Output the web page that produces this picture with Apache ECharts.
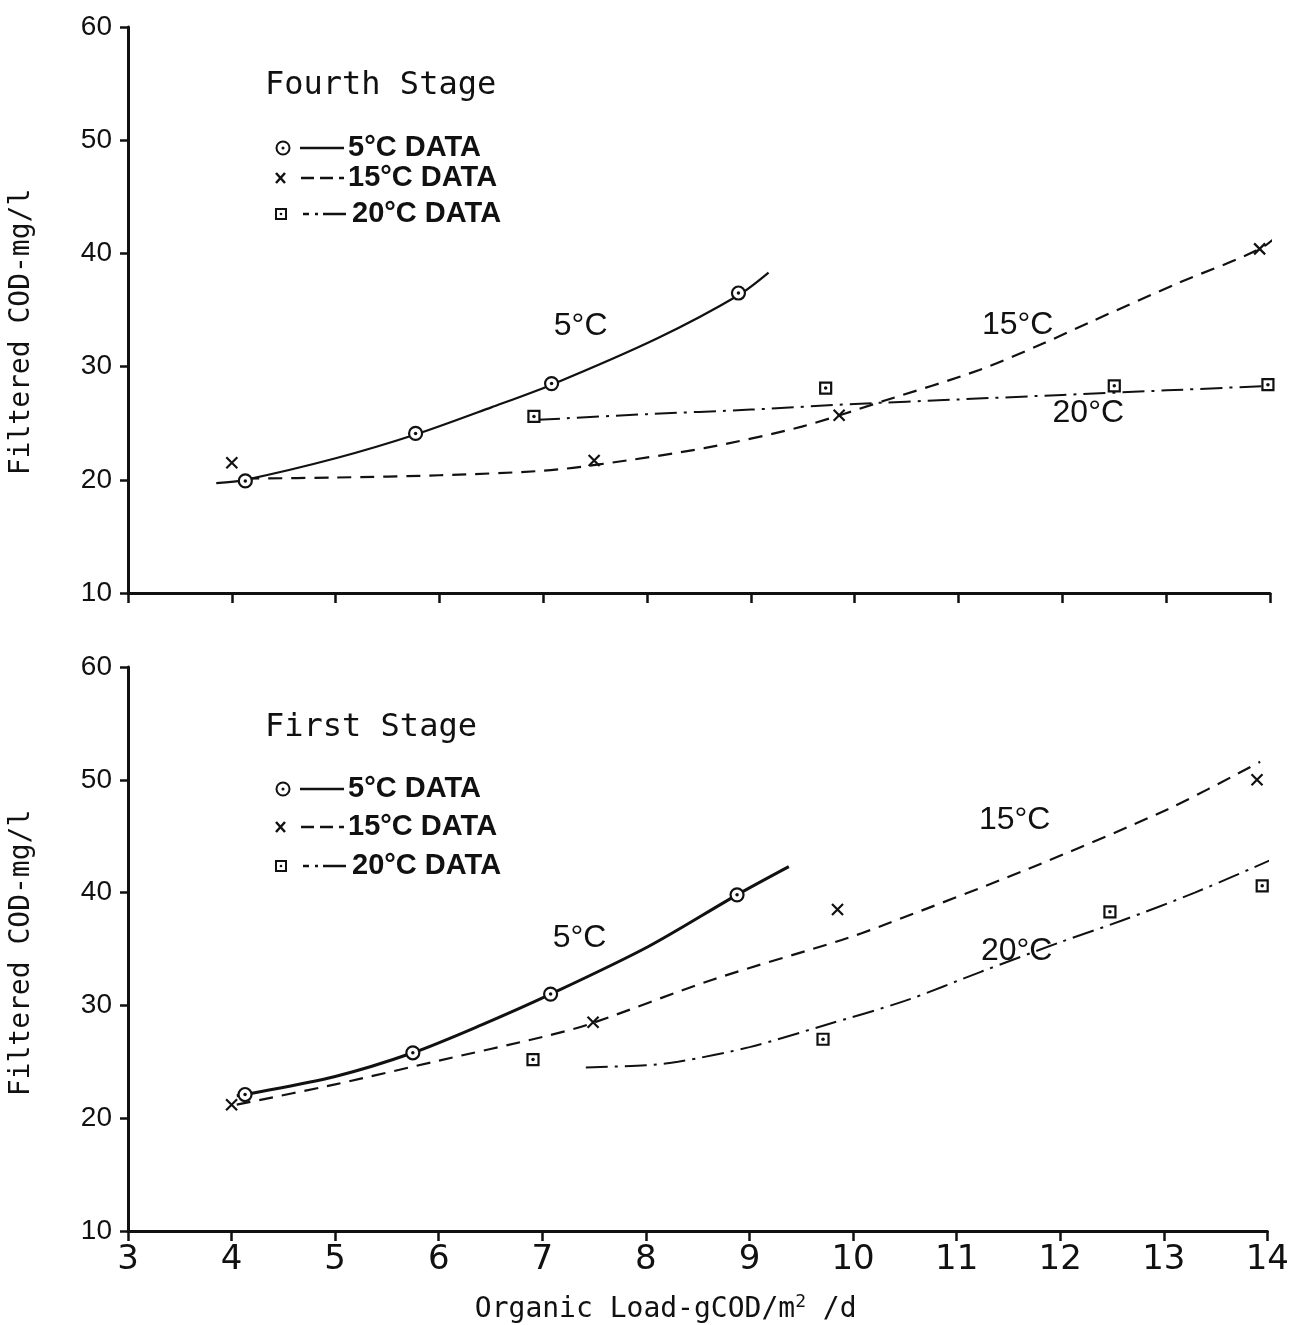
<!DOCTYPE html>
<html>
<head>
<meta charset="utf-8">
<style>
  html, body { margin: 0; padding: 0; background: #fff; }
  #chart { width: 1292px; height: 1325px; }
</style>
<script src="https://cdn.jsdelivr.net/npm/echarts@6/dist/echarts.min.js"></script>
</head>
<body>
<div id="chart"></div>
<script>
// Filtered COD vs organic load, fourth stage (top) and first stage (bottom)

// ---- Fourth stage: measured points [load, COD] ----
const fourth5Pts  = [[4.13, 19.9], [5.77, 24.1], [7.08, 28.5], [8.88, 36.5]];
const fourth15Pts = [[4.00, 21.5], [7.49, 21.7], [9.85, 25.7], [13.90, 40.4]];
const fourth20Pts = [[6.91, 25.6], [9.72, 28.1], [12.50, 28.3], [13.98, 28.4]];

// ---- Fourth stage: fitted curves ----
const fourth5Curve  = [[3.85, 19.7], [4.13, 20.0], [5.0, 21.9], [5.77, 24.0], [6.5, 26.4], [7.08, 28.4], [8.1, 32.5], [8.88, 36.3], [9.17, 38.3]];
const fourth15Curve = [[4.13, 20.1], [5.0, 20.2], [6.0, 20.4], [7.0, 20.8], [7.57, 21.4], [8.55, 22.8], [9.49, 24.7], [10.29, 27.0], [11.2, 29.7], [11.83, 32.1], [12.26, 33.9], [13.12, 37.4], [13.92, 40.5], [14.2, 42.7]];
const fourth20Curve = [[6.95, 25.3], [8.0, 25.8], [9.0, 26.2], [10.0, 26.7], [11.0, 27.1], [12.0, 27.5], [13.0, 27.9], [14.0, 28.3]];

// ---- First stage: measured points ----
const first5Pts  = [[4.13, 22.1], [5.75, 25.8], [7.08, 31.0], [8.88, 39.8]];
const first15Pts = [[4.00, 21.2], [7.49, 28.5], [9.85, 38.5], [13.90, 50.0]];
const first20Pts = [[6.91, 25.2], [9.71, 27.0], [12.48, 38.3], [13.95, 40.6]];

// ---- First stage: fitted curves ----
const first5Curve  = [[4.05, 22.0], [4.13, 22.1], [5.0, 23.7], [5.75, 25.8], [6.42, 28.3], [7.08, 31.0], [8.02, 35.2], [8.88, 39.8], [9.38, 42.3]];
const first15Curve = [[4.05, 21.2], [5.0, 23.0], [6.0, 25.1], [7.0, 27.2], [7.44, 28.3], [8.65, 32.3], [9.89, 35.8], [10.26, 37.0], [11.69, 42.1], [13.04, 47.4], [13.93, 51.6]];
const first20Curve = [[7.42, 24.5], [8.0, 24.7], [8.31, 25.0], [9.0, 26.3], [9.71, 28.2], [10.5, 30.4], [11.24, 33.0], [12.0, 35.6], [12.59, 37.5], [13.3, 40.0], [14.06, 43.0]];

// ---- Curve annotations [text, load, COD] ----
const fourthCurveLabels = [['5°C', 7.36, 33.6], ['15°C', 11.57, 33.7], ['20°C', 12.25, 25.9]];
const firstCurveLabels  = [['5°C', 7.36, 36.0], ['15°C', 11.56, 46.4], ['20°C', 11.58, 34.8]];

// ---- Axis settings ----
const xMin = 3, xMax = 14, xStep = 1;
const yMin = 10, yMax = 60, yStep = 10;
const stageTitles = ['Fourth Stage', 'First Stage'];
const legendTexts = ['5°C DATA', '15°C DATA', '20°C DATA'];
const yTitle = 'Filtered COD-mg/l';

const INK = '#111';
const MONO = "'DejaVu Sans Mono', monospace";
const SANS = "'Liberation Sans', Arial, sans-serif";
const DASH15 = [14, 9];
const DASH20 = [22, 7, 3, 7];
const CROSS = 'path://M0,0L10,10M10,0L0,10';

const chart = echarts.init(document.getElementById('chart'), null, { renderer: 'canvas' });

function axisX(gridIndex, showLabels) {
  return {
    type: 'value', gridIndex, min: xMin, max: xMax, interval: xStep,
    axisLine: { lineStyle: { color: INK, width: 3 } },
    axisTick: { show: true, inside: false, length: 10, lineStyle: { color: INK, width: 2.5 } },
    splitLine: { show: false },
    axisLabel: {
      show: showLabels, margin: 12, color: INK,
      fontFamily: "'DejaVu Sans', sans-serif",
      fontSize: 34
    },
    name: showLabels ? '{t|Organic Load-gCOD/m}{s|2}{t| /d}' : '',
    nameLocation: 'middle', nameGap: 62,
    nameTextStyle: {
      padding: [0, 64, 0, 0],
      rich: {
        t: { fontFamily: MONO, fontSize: 28, color: INK },
        s: { fontFamily: MONO, fontSize: 18, color: INK, padding: [0, 0, 16, 0] }
      }
    }
  };
}

function axisY(gridIndex, titlePad) {
  return {
    type: 'value', gridIndex, min: yMin, max: yMax, interval: yStep,
    axisLine: { show: true, lineStyle: { color: INK, width: 3 } },
    axisTick: { show: true, inside: false, length: 8, lineStyle: { color: INK, width: 2.5 } },
    splitLine: { show: false },
    axisLabel: { margin: 16, color: INK, fontFamily: SANS, fontSize: 28 },
    name: yTitle, nameLocation: 'middle', nameRotate: 90, nameGap: 92,
    nameTextStyle: { fontFamily: MONO, fontSize: 28, color: INK, padding: titlePad }
  };
}

function curve(data, idx, dash, width) {
  return {
    type: 'line', xAxisIndex: idx, yAxisIndex: idx, data,
    smooth: 0.3, showSymbol: false, clip: false,
    lineStyle: { color: INK, width, type: dash, opacity: 1 }, z: 2, silent: true
  };
}

function marker(data, idx, symbol, size, fill) {
  return {
    type: 'scatter', xAxisIndex: idx, yAxisIndex: idx, data, symbol, symbolSize: size,
    itemStyle: { color: fill, borderColor: INK, borderWidth: 2.2, opacity: 1 }, z: 4, silent: true
  };
}

function dots(data, idx) {
  return {
    type: 'scatter', xAxisIndex: idx, yAxisIndex: idx, data, symbol: 'circle', symbolSize: 3.5,
    itemStyle: { color: INK, opacity: 1 }, z: 5, silent: true
  };
}

function annotations(labels, idx) {
  return {
    type: 'scatter', xAxisIndex: idx, yAxisIndex: idx, symbolSize: 1,
    itemStyle: { color: 'transparent', opacity: 1 }, z: 6, silent: true,
    data: labels.map(l => ({ value: [l[1], l[2]], name: l[0] })),
    label: {
      show: true, position: 'inside', formatter: p => p.name, opacity: 1,
      fontFamily: SANS, fontSize: 32, color: INK, textBorderWidth: 0
    }
  };
}

function stageSeries(idx, p5, p15, p20, c5, c15, c20, labels, w5) {
  return [
    curve(c5, idx, 'solid', w5),
    curve(c15, idx, DASH15, 2.2),
    curve(c20, idx, DASH20, 2),
    marker(p5, idx, 'circle', 13, '#fff'),
    dots(p5, idx),
    marker(p15, idx, CROSS, 11, 'none'),
    marker(p20, idx, 'rect', 11, '#fff'),
    dots(p20, idx),
    annotations(labels, idx)
  ];
}

// Legend block drawn with graphic elements (marker, line sample, text)
function legendBlock(cfg) {
  const x0 = 265;
  const rows = cfg.rows;
  const els = [];
  els.push({ type: 'text', left: x0, top: cfg.titleY - 16,
    style: { text: cfg.title, font: `32px ${MONO}`, fill: INK } });
  // circle with dot
  els.push({ type: 'circle', shape: { cx: 283, cy: rows[0], r: 6.5 }, style: { fill: '#fff', stroke: INK, lineWidth: 2 } });
  els.push({ type: 'circle', shape: { cx: 283, cy: rows[0], r: 1.5 }, style: { fill: INK } });
  // cross
  els.push({ type: 'polyline', shape: { points: [[276, rows[1] - 5], [285, rows[1] + 5]] }, style: { stroke: INK, lineWidth: 2.5 } });
  els.push({ type: 'polyline', shape: { points: [[285, rows[1] - 5], [276, rows[1] + 5]] }, style: { stroke: INK, lineWidth: 2.5 } });
  // square with dot
  els.push({ type: 'rect', shape: { x: 276, y: rows[2] - 5, width: 10, height: 10 }, style: { fill: '#fff', stroke: INK, lineWidth: 2 } });
  els.push({ type: 'circle', shape: { cx: 281, cy: rows[2], r: 1.3 }, style: { fill: INK } });
  // line samples
  els.push({ type: 'line', shape: { x1: 300, y1: rows[0], x2: 344, y2: rows[0] }, style: { stroke: INK, lineWidth: 2.5 } });
  els.push({ type: 'line', shape: { x1: 301, y1: rows[1], x2: 344, y2: rows[1] }, style: { stroke: INK, lineWidth: 2.5, lineDash: [13, 6] } });
  els.push({ type: 'line', shape: { x1: 303, y1: rows[2], x2: 346, y2: rows[2] }, style: { stroke: INK, lineWidth: 2.5, lineDash: [6, 6, 3, 5, 30] } });
  const textX = [348, 348, 352];
  legendTexts.forEach((t, i) => {
    els.push({ type: 'text', left: textX[i], top: rows[i] - 15,
      style: { text: t, font: `bold 29px ${SANS}`, fill: INK } });
  });
  return els;
}

const option = {
  backgroundColor: '#fff',
  animation: false,
  grid: [
    { left: 124, top: 27, width: 1146, height: 566, containLabel: false },
    { left: 124, top: 667, width: 1146, height: 568, containLabel: false }
  ],
  xAxis: [axisX(0, false), axisX(1, true)],
  yAxis: [axisY(0, [0, 44, 0, 0]), axisY(1, [0, 8, 0, 0])],
  series: [
    ...stageSeries(0, fourth5Pts, fourth15Pts, fourth20Pts, fourth5Curve, fourth15Curve, fourth20Curve, fourthCurveLabels, 2.2),
    ...stageSeries(1, first5Pts, first15Pts, first20Pts, first5Curve, first15Curve, first20Curve, firstCurveLabels, 3)
  ],
  graphic: [
    ...legendBlock({ title: stageTitles[0], titleY: 86, rows: [148, 178, 214] }),
    ...legendBlock({ title: stageTitles[1], titleY: 728, rows: [789, 827, 866] })
  ]
};

chart.setOption(option);
</script>
</body>
</html>
